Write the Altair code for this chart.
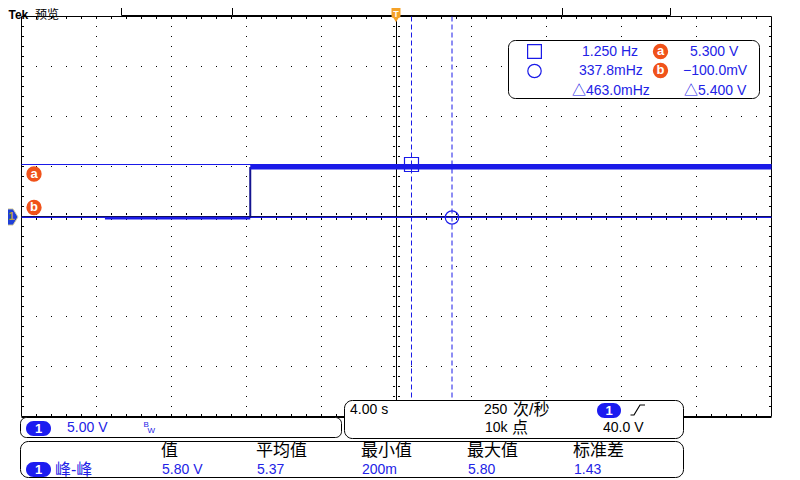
import altair as alt
import numpy as np
import pandas as pd

# ---------------- values ----------------
# CH1 waveform (5.00 V/div, 4.00 s/div): time in s, level in V
trace_low_t = [-15.55, -7.8]
trace_low_v = [-0.15, -0.15]
trace_step_t = [-7.8]
trace_step_from = [-0.15]
trace_step_to = [4.95]
trace_high_t = [-7.8, 20.0]
trace_high_v = [4.95, 4.95]

# cursors
vcursor_t = [0.8, 2.96]      # 1/1.250 Hz , 1/337.8 mHz
hcursor_v = [5.3, -0.1]      # a = 5.300 V , b = -100.0 mV

# readout texts
cursor_col1 = ["1.250 Hz", "337.8mHz", "\u25b3463.0mHz"]
cursor_col2 = ["5.300 V", "\u2212100.0mV", "\u25b35.400 V"]
meas_headers = ["值", "平均值", "最小值", "最大值", "标准差"]
meas_values = ["5.80 V", "5.37", "200m", "5.80", "1.43"]
meas_name = "峰-峰"
timebase = "4.00 s"
sample_rate = ["250", "次/秒"]
record_len = ["10k", "点"]
trigger_level = "40.0 V"
ch1_scale = "5.00 V"

# ---------------- geometry / style ----------------
W, H = 784, 472            # whole drawing area (page origin at 8,8)
PX_S, PX_V = 18.75, 10.0   # pixels per second / per volt
XMIN = -20 - 13.5 / PX_S
XMAX = XMIN + W / PX_S
YMAX = 20 + 8.5 / PX_V
YMIN = YMAX - H / PX_V

BLUE = "#1a1ae8"
TBLUE = "#2222e6"
ORANGE = "#f0521a"
TORANGE = "#f5a228"
CJK = "Liberation Sans, Noto Sans CJK SC"

XS = alt.Scale(domain=[XMIN, XMAX], nice=False, zero=False)
YS = alt.Scale(domain=[YMIN, YMAX], nice=False, zero=False)


def X(f):
    return alt.X(f, type="quantitative", scale=XS, axis=None)


def Y(f):
    return alt.Y(f, type="quantitative", scale=YS, axis=None)


# screen-pixel -> scale-unit helpers for the instrument chrome
def tx(px):
    return XMIN + (px - 8) / PX_S


def vy(py):
    return YMAX - (py - 8) / PX_V


layers = []

# ---------------- graticule ----------------
dots = []
for t in [-16, -12, -8, -4, 4, 8, 12, 16]:
    for v in np.arange(-19, 20, 1.0):
        dots.append((t, v))
for v in [-15, -10, -5, 5, 10, 15]:
    for k in range(1, 50):
        dots.append((-20 + 0.8 * k, v))
dots_df = pd.DataFrame(dots, columns=["t", "v"])
layers.append(alt.Chart(dots_df).mark_square(size=1, color="black", opacity=1).encode(x=X("t"), y=Y("v")))

# border / centre ticks
vals_v = np.arange(-19, 20, 1.0)
vals_t = np.array([-20 + 0.8 * k for k in range(1, 50)])
tick_rows = []
for xo, t in [(1.5, -20), (-1.5, 20), (-2.5, 0), (2.5, 0)]:
    for v in vals_v:
        tick_rows.append((t + xo / PX_S, v, "h"))
for yo, v in [(1.5, 20), (-1.5, -20), (-2.5, 0), (2.5, 0)]:
    for t in vals_t:
        tick_rows.append((t, v - yo / PX_V, "v"))
tick_df = pd.DataFrame(tick_rows, columns=["t", "v", "o"])
layers.append(alt.Chart(tick_df[tick_df.o == "h"]).mark_tick(orient="horizontal", size=2, thickness=1, color="black", opacity=1)
              .encode(x=X("t"), y=Y("v")))
layers.append(alt.Chart(tick_df[tick_df.o == "v"]).mark_tick(orient="vertical", size=2, thickness=1, color="black", opacity=1)
              .encode(x=X("t"), y=Y("v")))

# border and centre lines
frame = pd.DataFrame({"t": [-20, 20, -20, 0], "t2": [-20, 20, 20, 0],
                      "v": [-20, -20, 20, -20], "v2": [20, 20, 20, 20]})
layers.append(alt.Chart(frame).mark_rule(color="black", strokeWidth=1)
              .encode(x=X("t"), x2="t2", y=Y("v"), y2="v2"))
layers.append(alt.Chart(pd.DataFrame({"t": [-20], "t2": [20], "v": [-20 - 0.05]}))
              .mark_rule(color="black", strokeWidth=2)
              .encode(x=X("t"), x2="t2", y=Y("v")))

# ---------------- cursors ----------------
vc = pd.DataFrame({"t": vcursor_t, "v": [20, 20], "v2": [-20, -20]})
layers.append(alt.Chart(vc).mark_rule(color=BLUE, strokeWidth=1, strokeDash=[5, 3])
              .encode(x=X("t"), y=Y("v"), y2="v2"))
layers.append(alt.Chart(pd.DataFrame({"v": [hcursor_v[0]], "t": [-20], "t2": [20]}))
              .mark_rule(color=BLUE, strokeWidth=1, yOffset=1)
              .encode(x=X("t"), x2="t2", y=Y("v")))
layers.append(alt.Chart(pd.DataFrame({"v": [hcursor_v[1]], "t": [-20], "t2": [20]}))
              .mark_rule(color=BLUE, strokeWidth=1)
              .encode(x=X("t"), x2="t2", y=Y("v")))

# ---------------- waveform ----------------
layers.append(alt.Chart(pd.DataFrame({"t": trace_low_t, "v": trace_low_v}))
              .mark_line(color=BLUE, strokeWidth=3).encode(x=X("t"), y=Y("v")))
layers.append(alt.Chart(pd.DataFrame({"t": trace_step_t, "v": trace_step_from, "v2": trace_step_to}))
              .mark_rule(color="#141490", strokeWidth=2).encode(x=X("t"), y=Y("v"), y2="v2"))
layers.append(alt.Chart(pd.DataFrame({"t": trace_high_t, "v": trace_high_v}))
              .mark_line(color=BLUE, strokeWidth=5).encode(x=X("t"), y=Y("v")))
# centre line over the low trace
layers.append(alt.Chart(pd.DataFrame({"t": [-20], "t2": [20], "v": [0]}))
              .mark_rule(color="#101060", strokeWidth=1).encode(x=X("t"), x2="t2", y=Y("v")))

# cursor markers on the waveform
layers.append(alt.Chart(pd.DataFrame({"t": [vcursor_t[0]], "v": [hcursor_v[0]]}))
              .mark_point(shape="square", size=196, filled=False, color=BLUE, strokeWidth=1.2, opacity=1, yOffset=1)
              .encode(x=X("t"), y=Y("v")))
layers.append(alt.Chart(pd.DataFrame({"t": [vcursor_t[1]], "v": [hcursor_v[1]]}))
              .mark_point(shape="circle", size=180, filled=False, color=BLUE, strokeWidth=1.2, opacity=1)
              .encode(x=X("t"), y=Y("v")))


# ---------------- UI boxes ----------------
def box_layer(rows, radius, fill="white", stroke="black"):
    df = pd.DataFrame(rows, columns=["x", "x2", "y", "y2"])
    df = pd.DataFrame({"t": tx(df["x"]), "t2": tx(df["x2"]), "v": vy(df["y"]), "v2": vy(df["y2"])})
    kw = dict(cornerRadius=radius, fill=fill, opacity=1)
    if stroke:
        kw.update(stroke=stroke, strokeWidth=1)
    else:
        kw.update(strokeWidth=0)
    return alt.Chart(df).mark_rect(**kw).encode(x=X("t"), x2="t2", y=Y("v"), y2="v2")


def pt_df(xs, ys):
    return pd.DataFrame({"t": [tx(v) for v in xs], "v": [vy(v) for v in ys]})


layers.append(box_layer([(121.5, 232.5, -1, 15.5), (232.5, 562.5, -1, 15.5), (562.5, 670.5, -1, 15.5)], 0))
layers.append(box_layer([(508.5, 759.5, 40.5, 98.5)], 7))
layers.append(box_layer([(20.5, 341.5, 417.5, 437.5)], 6))
layers.append(box_layer([(344.5, 683.5, 400.5, 438.5), (20.5, 683.5, 441.5, 477.5)], 8))
layers.append(box_layer([(597, 621, 403, 418), (26, 51, 421, 436), (26, 51, 462, 477)], 7.5, fill="#1c1cf0", stroke=None))

# trigger position marker (T)
layers.append(box_layer([(391.5, 400.5, 4, 18)], 2, fill=TORANGE, stroke=None))
layers.append(alt.Chart(pt_df([396], [19]))
              .mark_point(shape="triangle-down", size=60, filled=True, color=TORANGE, opacity=1)
              .encode(x=X("t"), y=Y("v")))

# channel 1 ground marker
layers.append(alt.Chart(pt_df([9], [217]))
              .mark_point(shape="M-1,-0.9L0.45,-0.9L1,0L0.45,0.9L-1,0.9Z", size=324, filled=True,
                          fill="#1f3fd8", stroke="#d8d0a0", strokeWidth=1, opacity=1)
              .encode(x=X("t"), y=Y("v")))

# orange a / b badges
layers.append(alt.Chart(pt_df([660.5, 660.5, 34, 34], [51.5, 70.5, 174, 207.5]))
              .mark_circle(size=235, color=ORANGE, opacity=1).encode(x=X("t"), y=Y("v")))

# cursor readout icons
layers.append(alt.Chart(pt_df([534.5], [51.5]))
              .mark_point(shape="square", size=190, filled=False, color=BLUE, strokeWidth=1.2, opacity=1)
              .encode(x=X("t"), y=Y("v")))
layers.append(alt.Chart(pt_df([534.5], [71]))
              .mark_point(shape="circle", size=180, filled=False, color=BLUE, strokeWidth=1.2, opacity=1)
              .encode(x=X("t"), y=Y("v")))

# trigger slope icon
slope = pt_df([630.5, 634, 640, 645], [415, 415, 405, 405])
slope["o"] = [0, 1, 2, 3]
layers.append(alt.Chart(slope).mark_line(color="black", strokeWidth=1.2)
              .encode(x=X("t"), y=Y("v"), order="o:Q"))

# ---------------- texts ----------------
texts = []
ys = [51.5, 70.5, 90.5]
for s, x, y in zip(cursor_col1, [582, 579, 572], ys):
    texts.append((s, x, y, TBLUE, 14))
for s, x, y in zip(cursor_col2, [690, 683, 684], ys):
    texts.append((s, x, y, TBLUE, 14))
texts += [
    (timebase, 350, 410, "black", 14),
    (sample_rate[0], 484, 410, "black", 14),
    (sample_rate[1], 513, 410, "black", 16),
    (record_len[0], 485, 428, "black", 14),
    (record_len[1], 512, 428, "black", 16),
    (trigger_level, 603, 428, "black", 14),
    (ch1_scale, 67, 427.5, TBLUE, 14),
    ("B", 143.5, 425, TBLUE, 8),
    ("W", 147.5, 431, TBLUE, 8),
    (meas_name, 55, 469.5, TBLUE, 16),
    ("预览", 35, 15, "black", 12),
]
for s, x in zip(meas_headers, [161, 256, 361, 467, 573]):
    texts.append((s, x, 451, "black", 17))
for s, x in zip(meas_values, [162, 257, 362, 468, 574]):
    texts.append((s, x, 469.5, TBLUE, 14))
tdf = pd.DataFrame(texts, columns=["text", "x", "y", "color", "size"])
tdf["t"] = tx(tdf["x"]); tdf["v"] = vy(tdf["y"])
layers.append(alt.Chart(tdf).mark_text(align="left", baseline="middle", font=CJK)
              .encode(x=X("t"), y=Y("v"), text="text:N",
                      color=alt.Color("color:N", scale=None), size=alt.Size("size:Q", scale=None)))

bold = [("1", 609, 410.5, "white", 13), ("1", 38.5, 428.5, "white", 13), ("1", 38.5, 469.5, "white", 13),
        ("a", 660.5, 51, "white", 13), ("b", 660.5, 70, "white", 13),
        ("a", 34, 173.5, "white", 13), ("b", 34, 207, "white", 13),
        ("T", 396, 13.5, "white", 9), ("1", 11.5, 217, "#b8a040", 11)]
bdf = pd.DataFrame(bold, columns=["text", "x", "y", "color", "size"])
bdf["t"] = tx(bdf["x"]); bdf["v"] = vy(bdf["y"])
layers.append(alt.Chart(bdf).mark_text(align="center", baseline="middle", font="Liberation Sans", fontWeight="bold")
              .encode(x=X("t"), y=Y("v"), text="text:N",
                      color=alt.Color("color:N", scale=None), size=alt.Size("size:Q", scale=None)))

layers.append(alt.Chart(pt_df([8.5], [15]).assign(text=["Tek"]))
              .mark_text(align="left", baseline="middle", font="Liberation Sans", fontWeight="bold", fontSize=12, color="black")
              .encode(x=X("t"), y=Y("v"), text="text:N"))

chart = alt.layer(*layers).properties(
    width=W, height=H, padding=0, autosize="none", background="white"
).configure_view(stroke=None)

chart.save("out.html", embed_options={"renderer": "svg", "actions": False})
